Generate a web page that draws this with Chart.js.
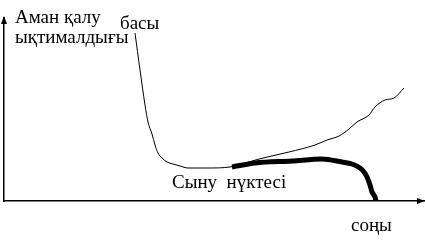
<!DOCTYPE html>
<html>
<head>
<meta charset="utf-8">
<script src="https://cdn.jsdelivr.net/npm/chart.js@4/dist/chart.umd.min.js"></script>
<style>
  html, body { margin: 0; padding: 0; background: #fff; }
  #wrap { width: 425px; height: 245px; }
</style>
</head>
<body>
<div id="wrap"><canvas id="myChart" width="425" height="245"></canvas></div>
<script>
// time along the x axis, survival probability along y (arbitrary units)
const survivalX = [131, 136, 141, 144, 148, 151, 154, 158, 163, 169, 176, 184, 203, 226, 255, 285, 311, 323, 335, 345, 353, 365, 371, 381, 390, 400]
const survivalY = [168, 131, 96, 79, 67, 56, 48, 43, 39, 37, 35, 33, 33, 34, 42, 49, 56, 61, 65, 72, 79, 86, 94, 101, 103, 113]

const failureX = [228, 251, 288, 318, 338, 348, 356, 360, 363, 366, 368, 371, 372]
const failureY = [34, 38, 40, 42, 39, 37, 33, 29, 24, 16, 9, 4, 0]

const yTitle = ['Аман қалу', 'ықтималдығы']
const startLabel = 'басы'
const breakLabel = 'Сыну  нүктесі'
const endLabel = 'соңы'

const toPoints = (xs, ys) => xs.map((x, i) => ({ x: x, y: ys[i] }))

// arrows + text labels
const annotations = {
    id: 'annotations',
    afterDraw(chart) {
        const ctx = chart.ctx
        const a = chart.chartArea
        const xs = chart.scales.x
        const ys = chart.scales.y
        ctx.save()
        ctx.fillStyle = '#000'
        // arrow heads
        ctx.beginPath()
        ctx.moveTo(a.left, a.top - 2)
        ctx.lineTo(a.left - 3, a.top + 6)
        ctx.lineTo(a.left + 3, a.top + 6)
        ctx.closePath()
        ctx.fill()
        ctx.beginPath()
        ctx.moveTo(a.right, a.bottom)
        ctx.lineTo(a.right - 8, a.bottom - 3)
        ctx.lineTo(a.right - 8, a.bottom + 3)
        ctx.closePath()
        ctx.fill()

        ctx.font = '19px "Liberation Serif", "Times New Roman", serif'
        ctx.textBaseline = 'alphabetic'
        ctx.textAlign = 'left'
        ctx.fillText(yTitle[0], xs.getPixelForValue(11), ys.getPixelForValue(178))
        ctx.fillText(yTitle[1], xs.getPixelForValue(11), ys.getPixelForValue(158))
        ctx.fillText(startLabel, xs.getPixelForValue(116), ys.getPixelForValue(172))
        ctx.fillText(breakLabel, xs.getPixelForValue(168), ys.getPixelForValue(13))
        ctx.fillText(endLabel, xs.getPixelForValue(347), ys.getPixelForValue(-30))
        ctx.restore()
    }
}

const data = {
    datasets: [{
        label: 'survival',
        data: toPoints(survivalX, survivalY),
        borderColor: '#000',
        borderWidth: 1,
        pointRadius: 0,
        cubicInterpolationMode: 'monotone',
        fill: false
    }, {
        label: 'failure',
        data: toPoints(failureX, failureY),
        borderColor: '#000',
        borderWidth: 5,
        borderCapStyle: 'butt',
        pointRadius: 0,
        cubicInterpolationMode: 'monotone',
        fill: false
    }]
}

const config = {
    type: 'line',
    data: data,
    plugins: [annotations],
    options: {
        responsive: false,
        animation: false,
        events: [],
        layout: { padding: { left: 4, top: 18, right: 0, bottom: 44 } },
        plugins: {
            legend: { display: false },
            tooltip: { enabled: false }
        },
        scales: {
            x: {
                type: 'linear',
                min: 0,
                max: 421,
                ticks: { display: false },
                grid: { display: false, drawTicks: false },
                border: { display: true, color: '#000', width: 1.5 }
            },
            y: {
                type: 'linear',
                min: 0,
                max: 183,
                ticks: { display: false },
                grid: { display: false, drawTicks: false },
                border: { display: true, color: '#000', width: 1.5 }
            }
        }
    }
}

const myChart = new Chart(document.getElementById('myChart'), config)
</script>
</body>
</html>
